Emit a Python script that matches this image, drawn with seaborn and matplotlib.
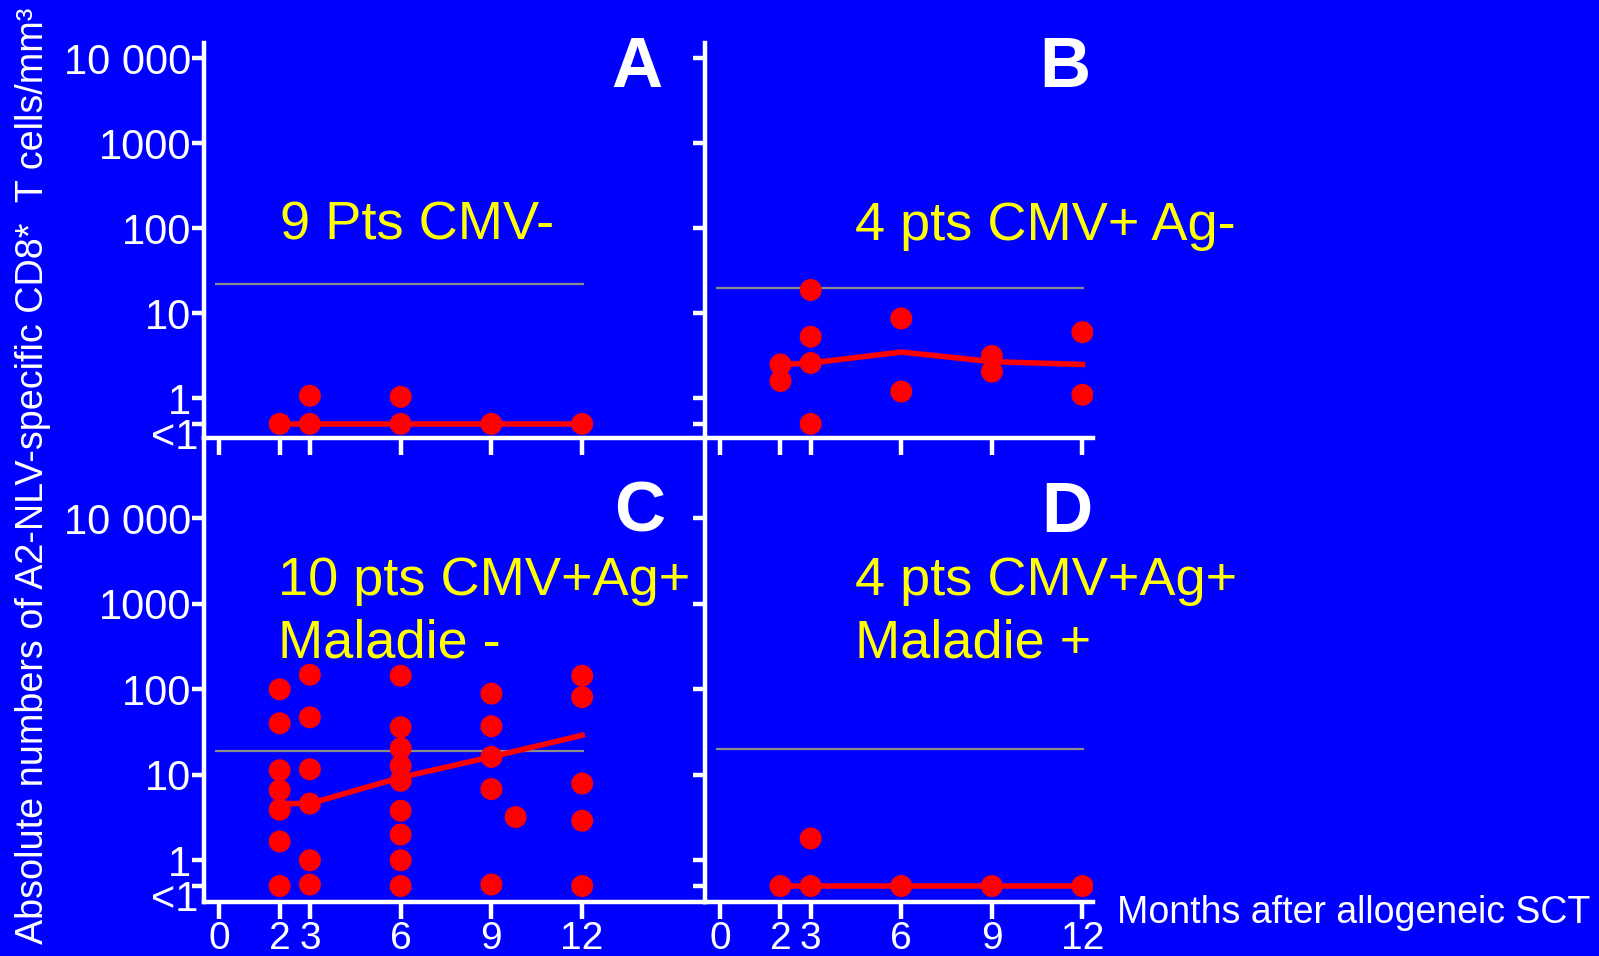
import matplotlib
matplotlib.use("Agg")
import matplotlib.pyplot as plt
import matplotlib.transforms as mtransforms
from matplotlib.ticker import NullLocator
import seaborn as sns

plt.rcParams["font.family"] = ["Liberation Sans", "DejaVu Sans"]

# data (months after SCT, cells/mm3; "<1" drawn at 0.5)
a_month = [2, 3, 3, 6, 6, 9, 12]
a_value = [0.5, 1.07, 0.5, 1.04, 0.5, 0.5, 0.5]
a_med_month = [2, 3, 6, 9, 12]
a_med_value = [0.5, 0.5, 0.5, 0.5, 0.5]

b_month = [2, 2, 3, 3, 3, 3, 6, 6, 9, 9, 12, 12]
b_value = [2.5, 1.6, 18.8, 5.3, 2.6, 0.5, 8.7, 1.2, 3.15, 2.06, 6.0, 1.1]
b_med_month = [2, 3, 6, 9, 12]
b_med_value = [2.5, 2.6, 3.5, 2.7, 2.5]

c_month = [2, 2, 2, 2, 2, 2, 2,
           3, 3, 3, 3, 3, 3,
           6, 6, 6, 6, 6, 6, 6, 6, 6,
           9, 9, 9, 9, 9,
           9.8,
           12, 12, 12, 12, 12]
c_value = [100, 40, 11.3, 6.6, 3.9, 1.66, 0.5,
           148, 47, 11.6, 4.6, 1.0, 0.52,
           144, 36, 20.4, 12.7, 8.5, 3.8, 2.0, 1.0, 0.5,
           89, 37, 16.2, 6.8, 0.52,
           3.2,
           144, 81, 7.9, 2.9, 0.5]
c_med_month = [2, 3, 6, 9, 12]
c_med_value = [4.6, 4.6, 9.3, 16.2, 29]

d_month = [2, 3, 3, 6, 9, 12]
d_value = [0.5, 1.8, 0.5, 0.5, 0.5, 0.5]
d_med_month = [2, 3, 6, 9, 12]
d_med_value = [0.5, 0.5, 0.5, 0.5, 0.5]

thresholds = [22, 20, 19, 20]
panel_letters = ["A", "B", "C", "D"]
group_labels = [["9 Pts CMV-"], ["4 pts CMV+ Ag-"],
                ["10 pts CMV+Ag+", "Maladie -"], ["4 pts CMV+Ag+", "Maladie +"]]

x_ticks = [0, 2, 3, 6, 9, 12]
x_ticklabels = ["0", "2", "3", "6", "9", "12"]
y_ticks = [0.5, 1, 10, 100, 1000, 10000]
y_ticklabels = ["", "1", "10", "100", "1000", "10 000"]

ylabel = "Absolute numbers of A2-NLV-specific CD8*  T cells/mm³"
xlabel = "Months after allogeneic SCT"

BLUE = "#0000FF"
W, H = 1599, 956
fig = plt.figure(figsize=(W / 100, H / 100), dpi=100, facecolor=BLUE)


def px_axes(left, top, right, bottom):
    return fig.add_axes([left / W, 1 - bottom / H, (right - left) / W, (bottom - top) / H])


# axes boxes in pixels: left, top, right, bottom
boxes = [(204, 43, 705, 438), (705, 43, 1093, 438),
         (204, 438, 705, 902), (705, 438, 1093, 902)]
xlims = [(-0.5, 16.06), (-0.5, 12.35), (-0.5, 16.06), (-0.5, 12.35)]
ylims = [(0.341, 15136), (0.341, 15136), (0.325, 87000), (0.325, 87000)]
points = [(a_month, a_value), (b_month, b_value), (c_month, c_value), (d_month, d_value)]
medians = [(a_med_month, a_med_value), (b_med_month, b_med_value),
           (c_med_month, c_med_value), (d_med_month, d_med_value)]

for i in range(4):
    ax = px_axes(*boxes[i])
    ax.set_facecolor("none")
    ax.set_yscale("log")

    # threshold line
    ax.hlines(thresholds[i], -0.15, 12.05, color="#8c8c8c", lw=1.6, zorder=1)

    # median line + single patients
    sns.lineplot(x=medians[i][0], y=medians[i][1], ax=ax, color="red", lw=4,
                 estimator=None, sort=False, zorder=2)
    sns.scatterplot(x=points[i][0], y=points[i][1], ax=ax, color="red", s=250,
                    edgecolor="none", zorder=3)

    ax.set_xlim(*xlims[i])
    ax.set_ylim(*ylims[i])
    ax.yaxis.set_minor_locator(NullLocator())
    ax.xaxis.set_minor_locator(NullLocator())

    for s in ["top", "right"]:
        ax.spines[s].set_visible(False)
    for s in ["left", "bottom"]:
        ax.spines[s].set_color("white")
        ax.spines[s].set_linewidth(3.2)

    ax.set_xticks(x_ticks)
    ax.set_yticks(y_ticks)
    if i >= 2:
        ax.set_xticklabels(x_ticklabels)
    else:
        ax.set_xticklabels([""] * len(x_ticks))
    if i % 2 == 0:
        ax.set_yticklabels(y_ticklabels)
        # "<1" sits a bit below its tick
        off = mtransforms.ScaledTranslation(-4 / 72, -10 / 72, fig.dpi_scale_trans)
        ax.text(0, 0.5, "<1", transform=ax.get_yaxis_transform() + off,
                ha="right", va="center", color="white", fontsize=30)
    else:
        ax.set_yticklabels([""] * len(y_ticks))
    ax.tick_params(axis="y", colors="white", width=3.2, length=9, direction="out",
                   labelsize=30, pad=0)
    ax.tick_params(axis="x", colors="white", width=3.2, length=12, direction="out",
                   labelsize=28, pad=2)
    ax.set_xlabel("")
    ax.set_ylabel("")

# panel letters
letter_pos = [(637, 87), (1065, 87), (640, 532), (1067, 532)]
for (x, y), letter in zip(letter_pos, panel_letters):
    fig.text(x / W, 1 - y / H, letter, ha="center", va="baseline", color="white",
             fontsize=51, fontweight="bold")

# group labels, one text per line
label_pos = [(280, 240), (855, 240), (278, 595), (855, 595)]
for (x, y), lines in zip(label_pos, group_labels):
    for k, line in enumerate(lines):
        fig.text(x / W, 1 - (y + 63 * k) / H, line, ha="left", va="baseline",
                 color="#FFFF00", fontsize=39)

fig.text(1117 / W, 1 - 923 / H, xlabel, ha="left", va="baseline", color="white", fontsize=27)
fig.text(33 / W, 1 - 476 / H, ylabel, rotation=90, ha="center", va="center",
         color="white", fontsize=27.2)

fig.savefig("out.png", dpi=100, facecolor=BLUE)
